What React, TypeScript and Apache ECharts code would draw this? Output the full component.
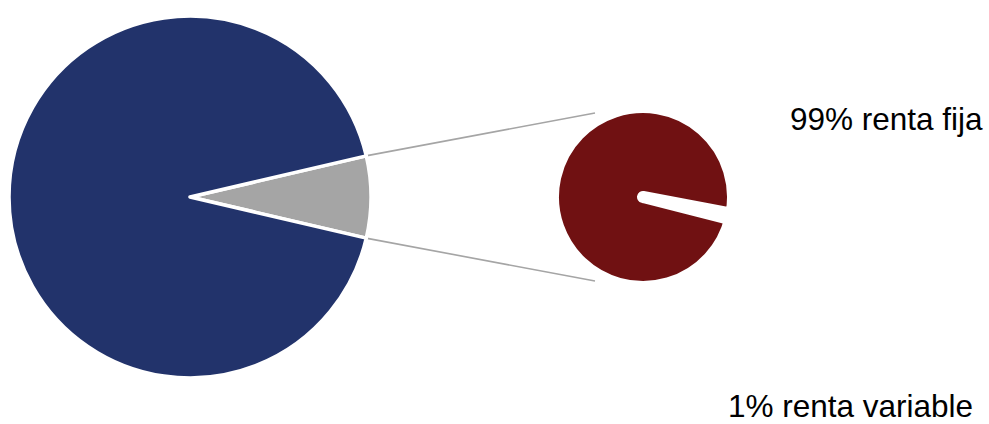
import React, { useEffect, useRef } from "react";
import * as echarts from "echarts";

// Primary pie: navy remainder and the grey slice broken out into the secondary pie
const mainNames = ["Resto", "Desglose"];
const mainValues = [92.7, 7.3];
// Secondary pie breakdown
const subNames = ["renta variable", "renta fija"];
const subValues = [1, 99];
const subPercentLabels = ["1%", "99%"];

const NAVY = "#22336B";
const GREY = "#A5A5A5";
const RED = "#701112";

export default function App() {
  const ref = useRef<HTMLDivElement>(null);

  useEffect(() => {
    if (!ref.current) return;
    const chart = echarts.init(ref.current, null, { renderer: "svg" });

    const c1 = [190, 197];
    const r1 = 181;
    const c2 = [643, 197];
    const r2 = 90;
    const r2Visible = 84;

    const mainTotal = mainValues.reduce((a, b) => a + b, 0);
    const greyHalf = (mainValues[1] / mainTotal) * 180; // degrees
    const subTotal = subValues.reduce((a, b) => a + b, 0);
    const smallHalf = (subValues[0] / subTotal) * 180;
    const gapCenterAngle = -12.5;

    const rad = (greyHalf * Math.PI) / 180;
    const sx = c1[0] + (r1 + 1) * Math.cos(rad);
    const syTop = c1[1] - (r1 + 1) * Math.sin(rad);
    const syBot = c1[1] + (r1 + 1) * Math.sin(rad);
    const ex = c2[0] - 48;
    const eyTop = c2[1] - r2Visible;
    const eyBot = c2[1] + r2Visible;

    const fijaIdx = 1;
    const varIdx = 0;
    const labelFont = "31.5px 'Liberation Sans', Arial, sans-serif";

    chart.setOption({
      animation: false,
      backgroundColor: "#ffffff",
      series: [
        {
          type: "pie",
          silent: true,
          center: c1,
          radius: r1,
          startAngle: greyHalf,
          clockwise: true,
          label: { show: false },
          labelLine: { show: false },
          emphasis: { disabled: true },
          itemStyle: { borderColor: "#ffffff", borderWidth: 3.5 },
          data: [
            { name: mainNames[1], value: mainValues[1], itemStyle: { color: GREY } },
            { name: mainNames[0], value: mainValues[0], itemStyle: { color: NAVY } },
          ],
        },
        {
          type: "pie",
          silent: true,
          center: c2,
          radius: r2,
          startAngle: gapCenterAngle + smallHalf,
          clockwise: true,
          label: { show: false },
          labelLine: { show: false },
          emphasis: { disabled: true },
          itemStyle: { borderColor: "#ffffff", borderWidth: 12, borderJoin: "round" },
          data: [
            { name: subNames[0], value: subValues[0], itemStyle: { color: "#ffffff" } },
            { name: subNames[1], value: subValues[1], itemStyle: { color: RED } },
          ],
        },
      ],
      graphic: [
        {
          type: "line",
          silent: true,
          shape: { x1: sx, y1: syTop, x2: ex, y2: eyTop },
          style: { stroke: GREY, lineWidth: 1.6 },
        },
        {
          type: "line",
          silent: true,
          shape: { x1: sx, y1: syBot, x2: ex, y2: eyBot },
          style: { stroke: GREY, lineWidth: 1.6 },
        },
        {
          type: "text",
          silent: true,
          x: 790,
          y: 118.5,
          style: {
            text: `${subPercentLabels[fijaIdx]} ${subNames[fijaIdx]}`,
            fill: "#000000",
            font: labelFont,
            lineHeight: 28,
            align: "left",
            verticalAlign: "middle",
          },
        },
        {
          type: "text",
          silent: true,
          x: 728,
          y: 406,
          style: {
            text: `${subPercentLabels[varIdx]} ${subNames[varIdx]}`,
            fill: "#000000",
            font: labelFont,
            lineHeight: 28,
            align: "left",
            verticalAlign: "middle",
          },
        },
      ],
    });

    return () => chart.dispose();
  }, []);

  return (
    <div
      ref={ref}
      style={{ position: "fixed", left: 0, top: 0, width: 989, height: 424, background: "#fff" }}
    />
  );
}
